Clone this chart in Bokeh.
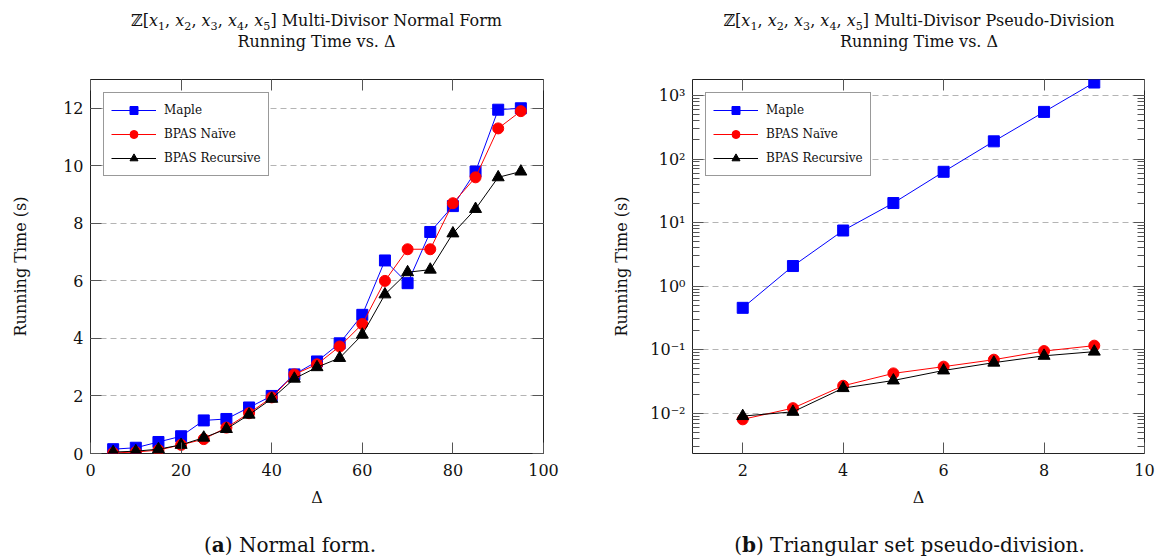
from bokeh.plotting import figure
from bokeh.models import (Range1d, LinearAxis, LogAxis, FixedTicker, Legend,
                          LegendItem, CustomJSTickFormatter, Div)
from bokeh.layouts import row, column
from bokeh.embed import file_html
from bokeh.resources import INLINE

# ---------------- data ----------------
series_names = ["Maple", "BPAS Naïve", "BPAS Recursive"]

delta_nf = [5, 10, 15, 20, 25, 30, 35, 40, 45, 50, 55, 60, 65, 70, 75, 80, 85, 90, 95]
maple_nf = [0.15, 0.2, 0.4, 0.6, 1.15, 1.2, 1.6, 2.0, 2.75, 3.2, 3.83, 4.82, 6.71, 5.92, 7.7, 8.6, 9.8, 11.95, 12.0]
naive_nf = [0.02, 0.05, 0.12, 0.3, 0.5, 0.9, 1.4, 1.95, 2.75, 3.1, 3.72, 4.5, 6.0, 7.1, 7.1, 8.7, 9.6, 11.3, 11.9]
recursive_nf = [0.05, 0.08, 0.15, 0.3, 0.55, 0.85, 1.35, 1.9, 2.6, 3.0, 3.32, 4.13, 5.53, 6.3, 6.39, 7.65, 8.5, 9.6, 9.8]

delta_pd = [2, 3, 4, 5, 6, 7, 8, 9]
maple_pd = [0.455, 2.07, 7.5, 20.3, 63.0, 190.0, 552.0, 1600.0]
naive_pd = [0.008, 0.012, 0.027, 0.0423, 0.054, 0.0695, 0.095, 0.1156]
recursive_pd = [0.009, 0.0105, 0.0248, 0.0327, 0.047, 0.0624, 0.080, 0.093]

nf_xticks = [0, 20, 40, 60, 80, 100]
nf_yticks = [0, 2, 4, 6, 8, 10, 12]
pd_xticks = [2, 4, 6, 8, 10]
pd_yticks = [0.01, 0.1, 1, 10, 100, 1000]

ring = "ℤ[" + ", ".join(
    f"<i>x</i><sub style='font-size:70%;line-height:0'>{i}</sub>" for i in range(1, 6)) + "]"
title_nf = [ring + " Multi-Divisor Normal Form", "Running Time vs. Δ"]
title_pd = [ring + " Multi-Divisor Pseudo-Division", "Running Time vs. Δ"]
caption_nf = "(<b>a</b>) Normal form."
caption_pd = "(<b>b</b>) Triangular set pseudo-division."

FONT = "DejaVu Serif"
TICK_COLOR = "#555555"
colors = ["#0000ff", "#ff0000", "#000000"]
markers = ["square", "circle", "triangle"]

W1, W2 = 580, 576
TITLE_H = 52
FIG_TOP = 27
FIG_BOTTOM = 62
FRAME_H = 374
FIG_H = FIG_TOP + FRAME_H + FIG_BOTTOM
CAP_H = 42

BLANK = "return '';"


def style_axis(ax, ticker, labels=True, minor=False):
    ax.ticker = ticker
    ax.axis_line_color = None
    ax.major_tick_in = 11
    ax.major_tick_out = 0
    ax.major_tick_line_color = TICK_COLOR
    if minor:
        ax.minor_tick_in = 7
        ax.minor_tick_out = 0
        ax.minor_tick_line_color = TICK_COLOR
    else:
        ax.minor_tick_line_color = None
    ax.major_label_text_font = FONT
    ax.major_label_text_font_size = "16px"
    ax.major_label_text_color = "#111111"
    if not labels:
        ax.formatter = CustomJSTickFormatter(code=BLANK)
        ax.major_label_standoff = 0
    ax.axis_label_text_font = FONT
    ax.axis_label_text_font_size = "16px"
    ax.axis_label_text_font_style = "normal"
    ax.axis_label_text_color = "#111111"


def make_fig(width, left, right, xr, yr, y_type, x, ys, xticks, yticks, ylabel_standoff):
    p = figure(width=width, height=FIG_H, x_range=xr, y_range=yr, y_axis_type=y_type,
               output_backend="svg", toolbar_location=None,
               min_border_left=left, min_border_right=right,
               min_border_top=FIG_TOP, min_border_bottom=FIG_BOTTOM)
    p.background_fill_color = "white"
    p.border_fill_color = "white"
    p.outline_line_color = "#222222"
    p.outline_line_width = 1

    bottom_ax = p.below[0]
    left_ax = p.left[0]

    minor = y_type == "log"
    xt = FixedTicker(ticks=xticks, minor_ticks=[])
    if minor:
        mt = [m * 10.0 ** k for k in range(-3, 4) for m in range(2, 10)]
        yt = FixedTicker(ticks=yticks, minor_ticks=mt)
    else:
        yt = FixedTicker(ticks=yticks, minor_ticks=[])

    style_axis(bottom_ax, xt)
    bottom_ax.major_label_standoff = 10
    bottom_ax.axis_label = "Δ"
    bottom_ax.axis_label_standoff = 9
    style_axis(left_ax, yt, minor=minor)
    left_ax.major_label_standoff = 7
    left_ax.axis_label = "Running Time (s)"
    left_ax.axis_label_standoff = ylabel_standoff

    if minor:
        left_ax.formatter = CustomJSTickFormatter(code="""
            const sup = {"-": "\u207b", "0": "\u2070", "1": "\u00b9", "2": "\u00b2", "3": "\u00b3",
                         "4": "\u2074", "5": "\u2075", "6": "\u2076", "7": "\u2077", "8": "\u2078", "9": "\u2079"};
            const e = String(Math.round(Math.log10(tick)));
            return "10" + e.split("").map(c => sup[c]).join("");
        """)

    # mirrored ticks on top and right
    top = LinearAxis()
    style_axis(top, xt, labels=False)
    p.add_layout(top, "above")
    rax = LogAxis() if minor else LinearAxis()
    style_axis(rax, yt, labels=False, minor=minor)
    p.add_layout(rax, "right")

    p.xgrid.grid_line_color = None
    p.ygrid.ticker = yt
    p.ygrid.grid_line_color = "#b4b4b4"
    p.ygrid.grid_line_dash = "6 4"
    p.ygrid.grid_line_width = 1

    items = []
    for name, yv, c, m in zip(series_names, ys, colors, markers):
        ln = p.line(x, yv, line_color=c, line_width=1)
        sc = p.scatter(x, yv, marker=m, size=11 if m != "triangle" else 12,
                       fill_color=c, line_color=c)
        items.append(LegendItem(label=name, renderers=[ln, sc]))
    leg = Legend(items=items, location="top_left", margin=13)
    leg.label_text_font = FONT
    leg.label_text_font_size = "12px"
    leg.label_text_color = "#111111"
    leg.glyph_width = 45
    leg.glyph_height = 20
    leg.label_height = 20
    leg.spacing = 4
    leg.padding = 7
    leg.label_standoff = 8
    leg.border_line_color = "#333333"
    leg.border_line_width = 1
    leg.background_fill_color = "white"
    leg.background_fill_alpha = 1.0
    p.add_layout(leg)
    return p


def text_div(lines, width, height, pad_top, pad_left, size, line_h):
    html = (f"<div style=\"box-sizing:border-box;width:{width}px;text-align:center;"
            f"padding-top:{pad_top}px;padding-left:{pad_left}px;font-family:'{FONT}';"
            f"font-size:{size}px;line-height:{line_h}px;color:#111111;\">"
            + "<br>".join(lines) + "</div>")
    return Div(text=html, width=width, height=height, margin=0)


p1 = make_fig(W1, 90, 37, Range1d(0, 100), Range1d(0, 13), "linear", delta_nf,
              [maple_nf, naive_nf, recursive_nf], nf_xticks, nf_yticks, 30)
p2 = make_fig(W2, 112, 12, Range1d(1, 10), Range1d(0.00232, 1786), "log", delta_pd,
              [maple_pd, naive_pd, recursive_pd], pd_xticks, pd_yticks, 16)

t1 = text_div(title_nf, W1, TITLE_H, 10, 53, 16, 21)
t2 = text_div(title_pd, W2, TITLE_H, 10, 102, 16, 21)
c1 = text_div([caption_nf], W1, CAP_H, 18, 0, 20, 24)
c2 = text_div([caption_pd], W2, CAP_H, 18, 83, 20, 24)

layout = column(row(t1, t2), row(p1, p2), row(c1, c2))
open("out.html", "w").write(file_html(layout, INLINE))
